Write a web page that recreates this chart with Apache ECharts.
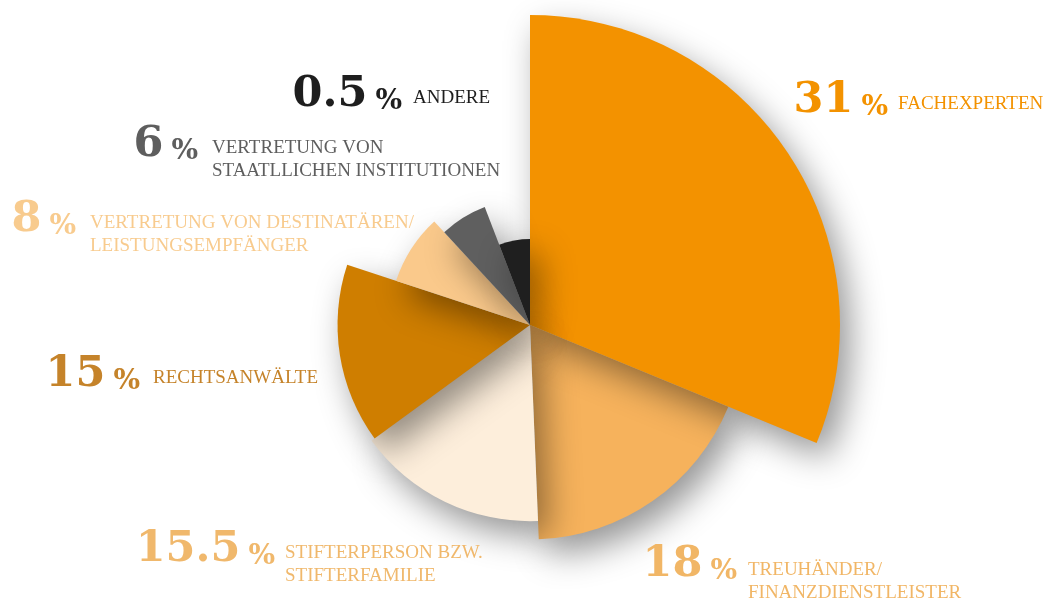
<!DOCTYPE html>
<html>
<head>
<meta charset="utf-8">
<script src="https://cdn.jsdelivr.net/npm/echarts@6/dist/echarts.min.js"></script>
<style>
  html, body { margin: 0; padding: 0; background: #fff; }
  #main { width: 1048px; height: 606px; }
</style>
</head>
<body>
<div id="main"></div>
<script>
// Anteile (Prozent) im Uhrzeigersinn ab 12 Uhr
const categories = [
  'FACHEXPERTEN',
  'TREUHÄNDER/\nFINANZDIENSTLEISTER',
  'STIFTERPERSON BZW.\nSTIFTERFAMILIE',
  'RECHTSANWÄLTE',
  'VERTRETUNG VON DESTINATÄREN/\nLEISTUNGSEMPFÄNGER',
  'VERTRETUNG VON\nSTAATLLICHEN INSTITUTIONEN',
  'ANDERE'
];
const shares = [31, 18, 15.5, 15, 8, 6, 0.5];

const sliceColors = ['#F39200', '#F6B25C', '#FDEEDB', '#CF7E00', '#FAC98B', '#5F5F5F', '#1F1F1F'];
const labelColors = ['#F39200', '#F1B666', '#F0B86C', '#C5832A', '#F8CB8E', '#5E5E5E', '#1E1E1E'];

// Label-Positionen: [rechter Rand der Zahl, Grundlinie, linker Rand Text, Grundlinie Text]
const labelPos = [
  [888, 111, 898, 111],
  [737, 575, 748, 577],
  [275, 560, 285, 560],
  [140, 385, 153, 385],
  [76, 230, 90, 230],
  [198, 155, 212, 155],
  [402, 105, 413, 105]
];
// Zeichenreihenfolge (Schatten fallen auf früher gezeichnete Segmente)
const drawOrder = [1.5, 1, 2, 3, 4, 5, 6];

const minAngle = 21;       // Mindestwinkel wie bei pie.minAngle
const radiusMin = -11.2;   // Radiusachse beginnt unter 0, damit kleine Werte sichtbar bleiben

// Winkel wie im ECharts-Tortenlayout mit minAngle
function sliceAngles(values) {
  const sum = values.reduce((a, b) => a + b, 0);
  let angles = values.map((v) => v * 360 / sum);
  let rest = 360, bigSum = 0;
  angles = angles.map((a, i) => {
    if (a < minAngle) { rest -= minAngle; return minAngle; }
    bigSum += values[i];
    return null;
  });
  return angles.map((a, i) => (a === null ? values[i] * rest / bigSum : a));
}

const angles = sliceAngles(shares);
let acc = 0;
const seriesData = shares.map((v, i) => {
  const item = [v, acc, acc + angles[i]];
  acc += angles[i];
  return item;
});

const chart = echarts.init(document.getElementById('main'));

function renderItem(params, api) {
  const i = params.dataIndex;
  const v = api.value(0);
  const c = api.coord([radiusMin, 0]);
  const p0 = api.coord([v, api.value(1)]);
  const p1 = api.coord([v, api.value(2)]);
  const r = Math.hypot(p0[0] - c[0], p0[1] - c[1]);
  const a0 = Math.atan2(p0[1] - c[1], p0[0] - c[0]);
  let a1 = Math.atan2(p1[1] - c[1], p1[0] - c[0]);
  if (a1 <= a0) a1 += Math.PI * 2;
  const pos = labelPos[i];
  const col = labelColors[i];
  return {
    type: 'group',
    children: [
      {
        type: 'sector',
        z2: drawOrder[i],
        shape: { cx: c[0], cy: c[1], r0: 0, r: r, startAngle: a0, endAngle: a1, clockwise: true },
        style: {
          fill: sliceColors[i],
          shadowBlur: 34,
          shadowColor: 'rgba(0,0,0,0.42)',
          shadowOffsetX: 10,
          shadowOffsetY: 15
        }
      },
      {
        type: 'text',
        z2: 20,
        style: {
          text: '{num|' + v + '}{pct|%}',
          x: pos[0],
          y: pos[1] - 14,
          align: 'right',
          verticalAlign: 'middle',
          rich: {
            num: {
              fill: col, fontFamily: 'DejaVu Serif', fontWeight: 'bold',
              fontSize: 43, lineHeight: 50, verticalAlign: 'bottom'
            },
            pct: {
              fill: col, fontFamily: 'DejaVu Serif', fontWeight: 'bold',
              fontSize: 28, lineHeight: 42, verticalAlign: 'bottom',
              padding: [0, 0, 0, 8]
            }
          }
        }
      },
      {
        type: 'text',
        z2: 20,
        style: {
          text: categories[i],
          x: pos[2],
          y: pos[3] - 18,
          align: 'left',
          verticalAlign: 'top',
          fill: col,
          fontFamily: 'Liberation Serif',
          fontSize: 19,
          lineHeight: 23
        }
      }
    ]
  };
}

const option = {
  backgroundColor: '#fff',
  animation: false,
  polar: { center: [530, 325], radius: 310 },
  angleAxis: { type: 'value', min: 0, max: 360, startAngle: 90, clockwise: true, show: false },
  radiusAxis: { type: 'value', min: radiusMin, max: 31, show: false },
  series: [
    {
      type: 'custom',
      coordinateSystem: 'polar',
      renderItem: renderItem,
      encode: { radius: 0, angle: 1 },
      data: seriesData
    }
  ]
};

chart.setOption(option);
</script>
</body>
</html>
